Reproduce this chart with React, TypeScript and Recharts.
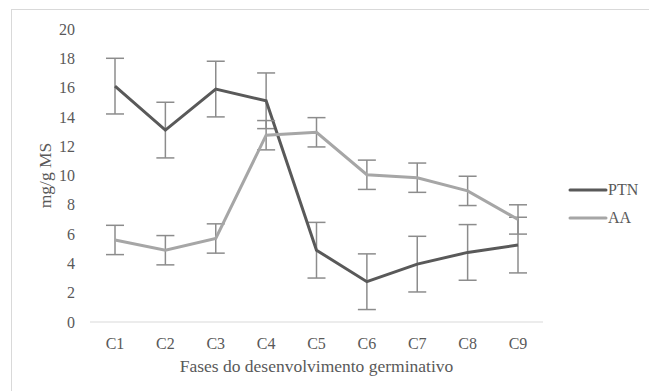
import React from "react";
import { LineChart, Line, XAxis, YAxis, ErrorBar, Legend, Label } from "recharts";

const phases = ["C1", "C2", "C3", "C4", "C5", "C6", "C7", "C8", "C9"];
const ptnValues = [16.1, 13.1, 15.9, 15.1, 4.9, 2.75, 3.95, 4.75, 5.25];
const ptnErrors = [1.9, 1.9, 1.9, 1.9, 1.9, 1.9, 1.9, 1.9, 1.9];
const aaValues = [5.6, 4.9, 5.7, 12.75, 12.95, 10.05, 9.85, 8.95, 7.0];
const aaErrors = [1.0, 1.0, 1.0, 1.0, 1.0, 1.0, 1.0, 1.0, 1.0];
const yTicks = [0, 2, 4, 6, 8, 10, 12, 14, 16, 18, 20];

const data = phases.map((phase, i) => ({
  phase,
  PTN: ptnValues[i],
  ptnErr: ptnErrors[i],
  AA: aaValues[i],
  aaErr: aaErrors[i],
}));

const FONT = "Liberation Serif, Times New Roman, DejaVu Serif, serif";
const TEXT = "#595959";

const renderLegend = () => (
  <svg width={80} height={50} style={{ fontFamily: FONT }}>
    <line x1={2} y1={10} x2={38} y2={10} stroke="#595959" strokeWidth={3} strokeLinecap="round" />
    <text x={40} y={15} fontSize={16} fill={TEXT} fontFamily={FONT}>PTN</text>
    <line x1={2} y1={38} x2={38} y2={38} stroke="#a6a6a6" strokeWidth={3} strokeLinecap="round" />
    <text x={40} y={43} fontSize={16} fill={TEXT} fontFamily={FONT}>AA</text>
  </svg>
);

export default function App() {
  return (
    <div style={{ position: "fixed", left: 0, top: 0, width: 649, height: 391, background: "#fff", fontFamily: FONT }}>
      {/* chart area border, right and bottom edges run off the picture */}
      <div
        style={{
          position: "absolute",
          left: 11,
          top: 9,
          width: 660,
          height: 400,
          border: "1px solid #d9d9d9",
        }}
      />
      <div style={{ position: "absolute", left: 0, top: 0 }}>
        <LineChart
          width={649}
          height={391}
          data={data}
          margin={{ top: 29, right: 26, bottom: 19, left: 50 }}
          style={{ fontFamily: FONT }}
        >
          <XAxis
            dataKey="phase"
            height={50}
            padding={{ left: 25, right: 25 }}
            tickLine={false}
            axisLine={{ stroke: "#d9d9d9" }}
            tick={{ fontSize: 16, fill: TEXT, fontFamily: FONT }}
            tickMargin={10}
          >
            <Label
              value="Fases do desenvolvimento germinativo"
              position="insideBottom"
              offset={0}
              style={{ fontFamily: FONT, fontSize: 17.5, fill: TEXT }}
            />
          </XAxis>
          <YAxis
            width={40}
            domain={[0, 20]}
            ticks={yTicks}
            axisLine={false}
            tickLine={false}
            tickSize={0}
            tickMargin={15}
            tick={{ fontSize: 16, fill: TEXT, fontFamily: FONT }}
          >
            <Label
              value="mg/g MS"
              angle={-90}
              position="center"
              dx={-25}
              style={{ fontFamily: FONT, fontSize: 17.5, fill: TEXT, textAnchor: "middle" }}
            />
          </YAxis>
          <Legend
            layout="horizontal"
            align="right"
            verticalAlign="middle"
            content={renderLegend}
            wrapperStyle={{ left: 568, top: 180, width: 80 }}
          />
          <Line
            type="linear"
            dataKey="PTN"
            stroke="#595959"
            strokeWidth={3}
            dot={false}
            activeDot={false}
            isAnimationActive={false}
          >
            <ErrorBar dataKey="ptnErr" width={9} stroke="#8c8c8c" strokeWidth={1.5} direction="y" />
          </Line>
          <Line
            type="linear"
            dataKey="AA"
            stroke="#a6a6a6"
            strokeWidth={3}
            dot={false}
            activeDot={false}
            isAnimationActive={false}
          >
            <ErrorBar dataKey="aaErr" width={9} stroke="#8c8c8c" strokeWidth={1.5} direction="y" />
          </Line>
        </LineChart>
      </div>
    </div>
  );
}
